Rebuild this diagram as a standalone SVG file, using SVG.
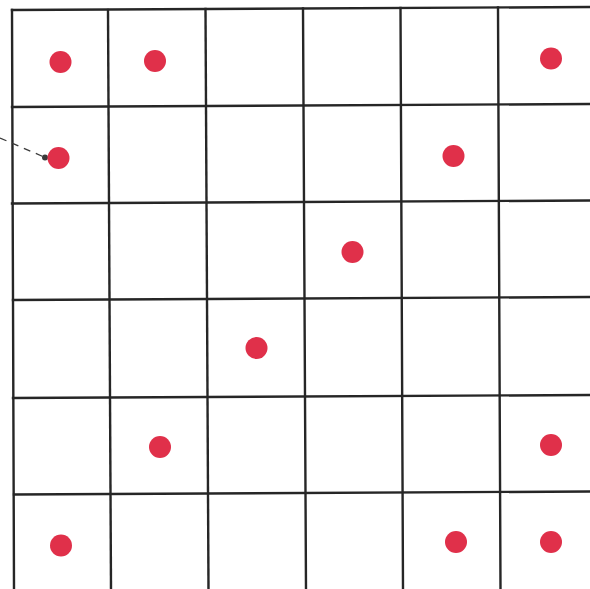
<svg xmlns="http://www.w3.org/2000/svg" width="590" height="589" viewBox="0 0 590 589">
<style>
.g{stroke:#262626;stroke-width:2.4;fill:none;stroke-linecap:square}
.d{fill:#e0304a}
.k{fill:#3a3a3a}
.c{stroke:#3a3a3a;stroke-width:1.3;fill:none;stroke-dasharray:7 6}
</style>
<rect width="590" height="589" fill="#ffffff"/>
<g id="grid">
<line class="g" x1="12" y1="10" x2="14" y2="589"/>
<line class="g" x1="108" y1="10" x2="111" y2="589"/>
<line class="g" x1="205.5" y1="9" x2="208.5" y2="589"/>
<line class="g" x1="303" y1="8.5" x2="306" y2="589"/>
<line class="g" x1="400.5" y1="8" x2="403" y2="589"/>
<line class="g" x1="498" y1="7.5" x2="500.5" y2="589"/>
<line class="g" x1="12" y1="10" x2="590" y2="7"/>
<line class="g" x1="12" y1="107" x2="590" y2="104"/>
<line class="g" x1="12" y1="203.5" x2="590" y2="200.5"/>
<line class="g" x1="13" y1="300" x2="590" y2="297"/>
<line class="g" x1="13" y1="398" x2="590" y2="395"/>
<line class="g" x1="14" y1="494.5" x2="590" y2="491.5"/>
</g>
<g id="connectors">
<line class="c" x1="0" y1="138" x2="44" y2="157"/>
</g>
<g id="dot-r1c1"><circle class="d" cx="60.5" cy="62" r="11"/></g>
<g id="dot-r1c2"><circle class="d" cx="155" cy="61" r="11"/></g>
<g id="dot-r1c6"><circle class="d" cx="551" cy="58.5" r="11"/></g>
<g id="dot-r2c1"><circle class="k" cx="45" cy="157.5" r="3"/><circle class="d" cx="58.5" cy="158" r="11"/></g>
<g id="dot-r2c5"><circle class="d" cx="453.5" cy="156" r="11"/></g>
<g id="dot-r3c4"><circle class="d" cx="352.5" cy="252" r="11"/></g>
<g id="dot-r4c3"><circle class="d" cx="256.5" cy="348" r="11"/></g>
<g id="dot-r5c2"><circle class="d" cx="160" cy="447" r="11"/></g>
<g id="dot-r5c6"><circle class="d" cx="551" cy="445" r="11"/></g>
<g id="dot-r6c1"><circle class="d" cx="61" cy="545.5" r="11"/></g>
<g id="dot-r6c5"><circle class="d" cx="456" cy="542" r="11"/></g>
<g id="dot-r6c6"><circle class="d" cx="551" cy="542" r="11"/></g>
</svg>
